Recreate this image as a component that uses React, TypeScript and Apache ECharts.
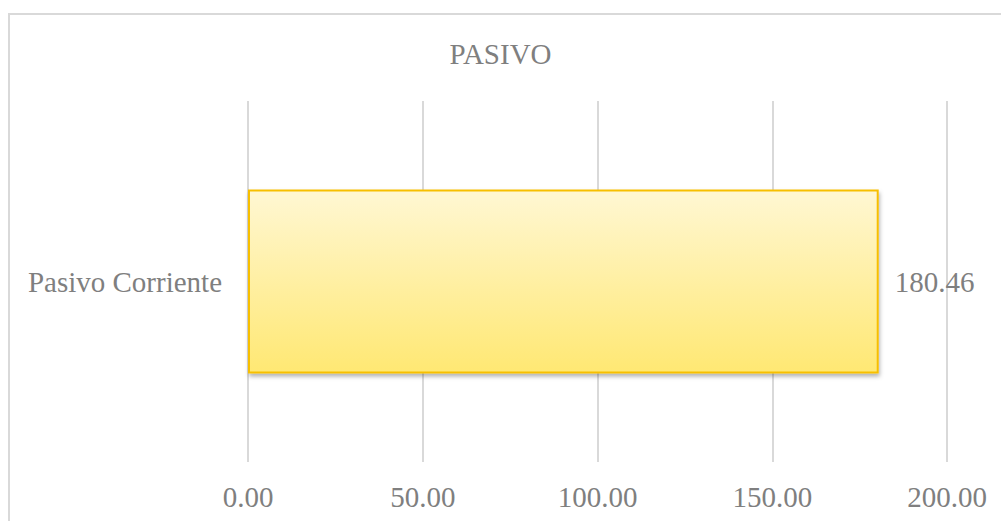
import React, { useEffect, useRef } from "react";
import * as echarts from "echarts";

const categories: string[] = ["Pasivo Corriente"];
const values: number[] = [180.46];
const titleText = "PASIVO";
const xMin = 0;
const xMax = 200;
const xInterval = 50;

const FONT = "Liberation Serif";
const TEXT_COLOR = "#7f7f7f";

export default function App() {
  const ref = useRef<HTMLDivElement>(null);
  useEffect(() => {
    if (!ref.current) return;
    const chart = echarts.init(ref.current, undefined, { renderer: "svg" });
    chart.setOption({
      animation: false,
      backgroundColor: "#ffffff",
      textStyle: { fontFamily: FONT },
      title: {
        text: titleText,
        left: "center",
        top: 34,
        textStyle: {
          fontFamily: FONT,
          fontSize: 29,
          fontWeight: "normal",
          color: TEXT_COLOR,
        },
      },
      graphic: [
        {
          type: "rect",
          shape: { x: 9, y: 14, width: 1100, height: 600 },
          style: { fill: "none", stroke: "#d9d9d9", lineWidth: 2 },
          silent: true,
          z: -10,
        },
      ],
      grid: { left: 248, right: 54, top: 101, bottom: 59, containLabel: false },
      xAxis: {
        type: "value",
        min: xMin,
        max: xMax,
        interval: xInterval,
        axisLine: { show: false },
        axisTick: { show: false },
        splitLine: { show: true, lineStyle: { color: "#d9d9d9", width: 2 } },
        axisLabel: {
          margin: 20,
          fontFamily: FONT,
          fontSize: 29,
          color: TEXT_COLOR,
          formatter: (v: number) => v.toFixed(2),
        },
      },
      yAxis: {
        type: "category",
        data: categories,
        axisLine: { show: false },
        axisTick: { show: false },
        splitLine: { show: false },
        axisLabel: {
          margin: 26,
          fontFamily: FONT,
          fontSize: 29,
          color: TEXT_COLOR,
        },
      },
      series: [
        {
          type: "bar",
          data: values,
          barWidth: 184,
          itemStyle: {
            color: new echarts.graphic.LinearGradient(0, 0, 0, 1, [
              { offset: 0, color: "#fff7d3" },
              { offset: 1, color: "#ffe873" },
            ]),
            borderColor: "#f7bf00",
            borderWidth: 2,
            shadowColor: "rgba(0,0,0,0.3)",
            shadowBlur: 4,
            shadowOffsetX: 1,
            shadowOffsetY: 3,
          },
          label: {
            show: true,
            position: "right",
            distance: 16,
            fontFamily: FONT,
            fontSize: 29,
            color: TEXT_COLOR,
            formatter: (p: any) => Number(p.value).toFixed(2),
          },
        },
      ],
    });
    return () => chart.dispose();
  }, []);
  return (
    <div
      ref={ref}
      style={{ position: "fixed", left: 0, top: 0, width: 1001, height: 521 }}
    />
  );
}
